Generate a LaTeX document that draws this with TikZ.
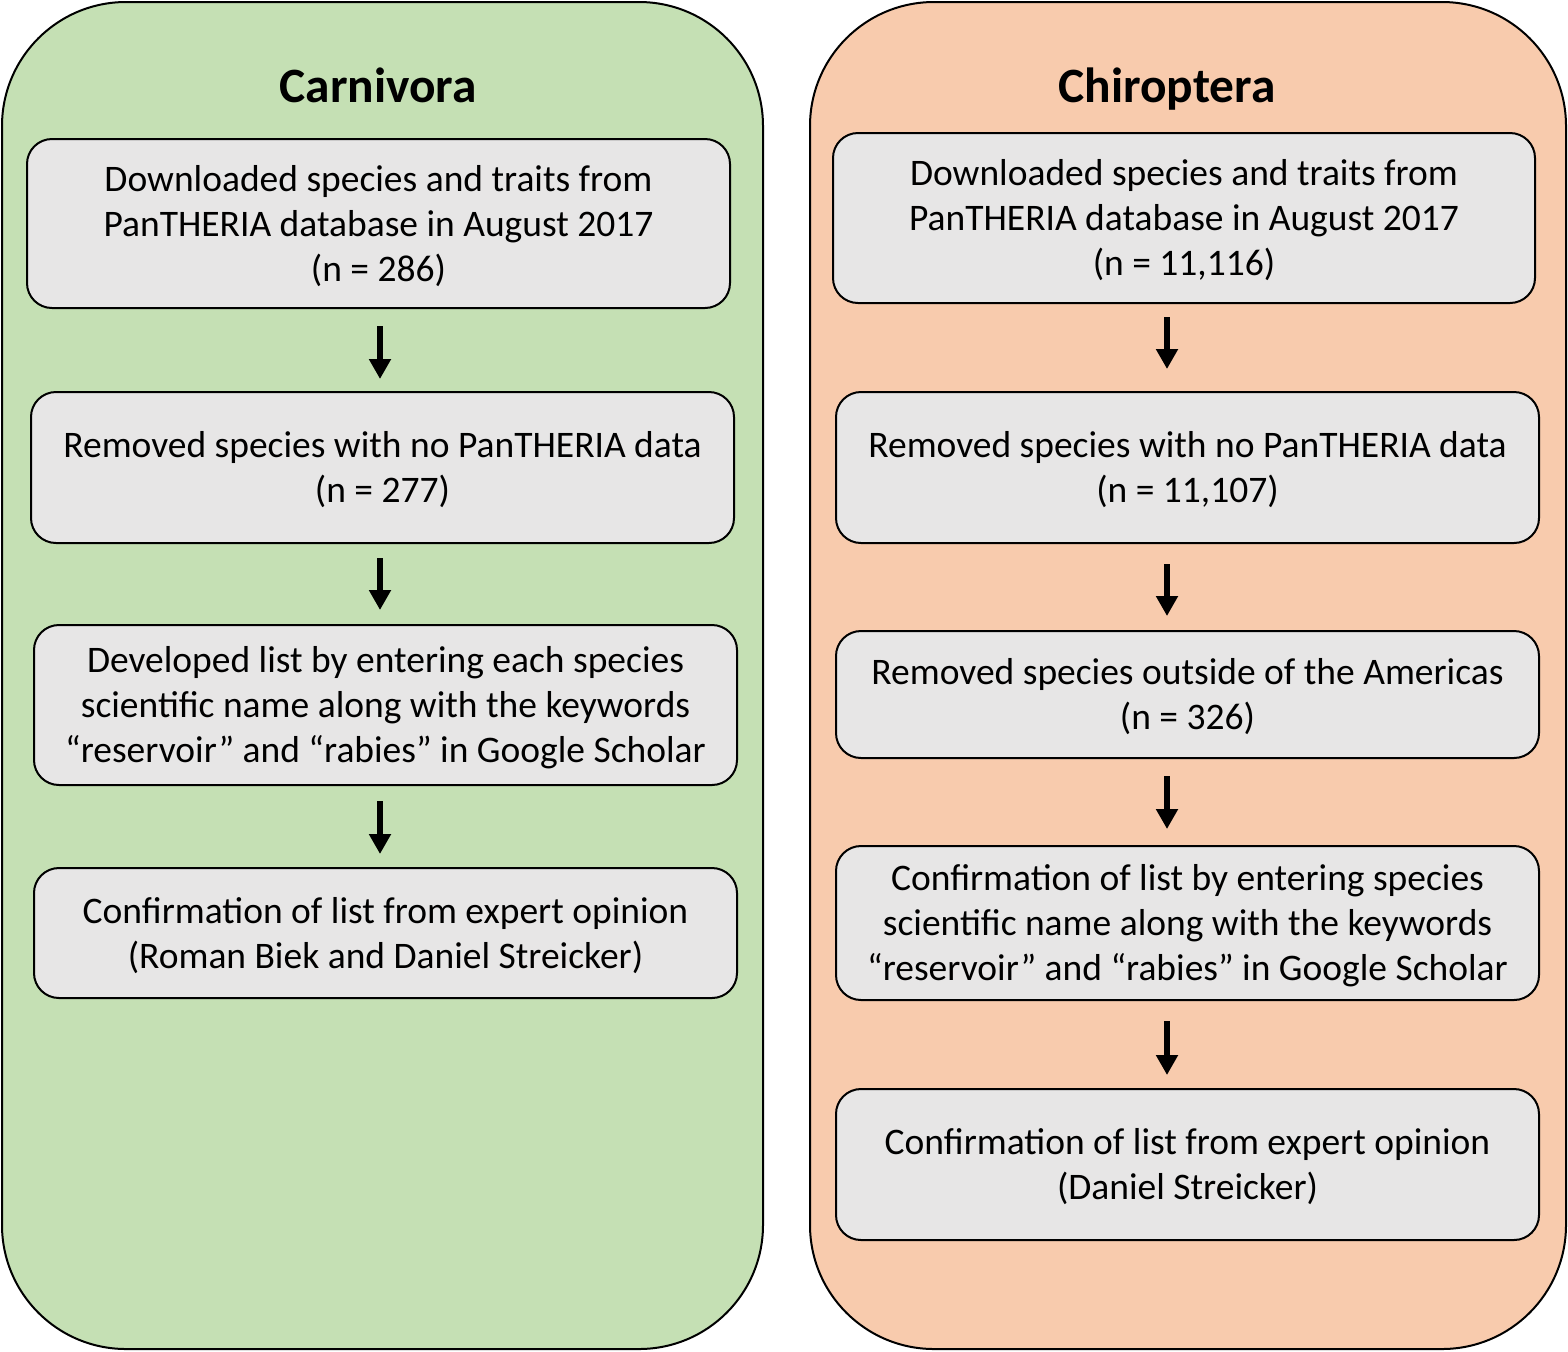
\documentclass[tikz,border=0pt]{standalone}
\usepackage{fontspec}
\setmainfont{Carlito}
\usetikzlibrary{arrows.meta}
\definecolor{greenfill}{HTML}{C5E0B4}
\definecolor{orangefill}{HTML}{F8CBAD}
\definecolor{boxfill}{HTML}{E7E6E6}
\newcommand{\steptxt}[1]{\raisebox{-1.75pt}[\height][\depth]{\begin{tabular}{@{}c@{}}#1\end{tabular}}}
\tikzset{
  panel/.style={draw=black, line width=1pt, rounded corners=62pt},
  stepbox/.style={draw=black, line width=1pt, fill=boxfill, rounded corners=12.5pt,
    align=center, inner sep=0pt, minimum width=351.5pt,
    font=\fontsize{18.75pt}{22.5pt}\selectfont},
  title/.style={font=\fontsize{24.7pt}{30pt}\selectfont\bfseries, anchor=base},
  arr/.style={line width=3pt, -{Triangle[width=10.5pt,length=10pt]}, shorten <=8.5pt, shorten >=6pt},
}
\begin{document}
\begin{tikzpicture}[x=0.5pt,y=-0.5pt]
\useasboundingbox (0,0) rectangle (1568,1351);
% panels
\draw[panel, fill=greenfill] (2,2) rectangle (763,1349);
\draw[panel, fill=orangefill] (810,2) rectangle (1566,1349);
% titles
\node[title] (t1) at (378,102) {Carnivora};
\node[title] (t2) at (1167,102) {Chiroptera};
% left column
\coordinate (lx) at (380,0);
\node[stepbox, minimum height=84.5pt] (l1) at (378.5,223.5) {\steptxt{Downloaded species and traits from\\PanTHERIA database in August 2017\\(n = 286)}};
\node[stepbox, minimum height=75.5pt] (l2) at (382.5,467.5) {\steptxt{Removed species with no PanTHERIA data\\(n = 277)}};
\node[stepbox, minimum height=80pt] (l3) at (385.5,705) {\steptxt{Developed list by entering each species\\scientific name along with the keywords\\“reservoir” and “rabies” in Google Scholar}};
\node[stepbox, minimum height=65pt] (l4) at (385.5,933) {\steptxt{Confirmation of list from expert opinion\\(Roman Biek and Daniel Streicker)}};
\draw[arr] (l1.south -| lx) -- (l2.north -| lx);
\draw[arr, shorten <=7pt, shorten >=7pt] (l2.south -| lx) -- (l3.north -| lx);
\draw[arr, shorten <=7.5pt, shorten >=6.5pt] (l3.south -| lx) -- (l4.north -| lx);
% right column
\coordinate (rx) at (1167,0);
\node[stepbox, minimum width=351pt, minimum height=85pt] (r1) at (1184,218) {\steptxt{Downloaded species and traits from\\PanTHERIA database in August 2017\\(n = 11,116)}};
\node[stepbox, minimum height=75.5pt] (r2) at (1187.5,467.5) {\steptxt{Removed species with no PanTHERIA data\\(n = 11,107)}};
\node[stepbox, minimum height=63.5pt] (r3) at (1187.5,694.5) {\steptxt{Removed species outside of the Americas\\(n = 326)}};
\node[stepbox, minimum height=77pt] (r4) at (1187.5,923) {\steptxt{Confirmation of list by entering species\\scientific name along with the keywords\\“reservoir” and “rabies” in Google Scholar}};
\node[stepbox, minimum height=75.5pt] (r5) at (1187.5,1164.5) {\steptxt{Confirmation of list from expert opinion\\(Daniel Streicker)}};
\draw[arr, shorten <=6.5pt, shorten >=11pt] (r1.south -| rx) -- (r2.north -| rx);
\draw[arr, shorten <=10pt, shorten >=7pt] (r2.south -| rx) -- (r3.north -| rx);
\draw[arr, shorten <=8.5pt, shorten >=8pt] (r3.south -| rx) -- (r4.north -| rx);
\draw[arr, shorten <=10pt, shorten >=6.5pt] (r4.south -| rx) -- (r5.north -| rx);
\end{tikzpicture}
\end{document}
